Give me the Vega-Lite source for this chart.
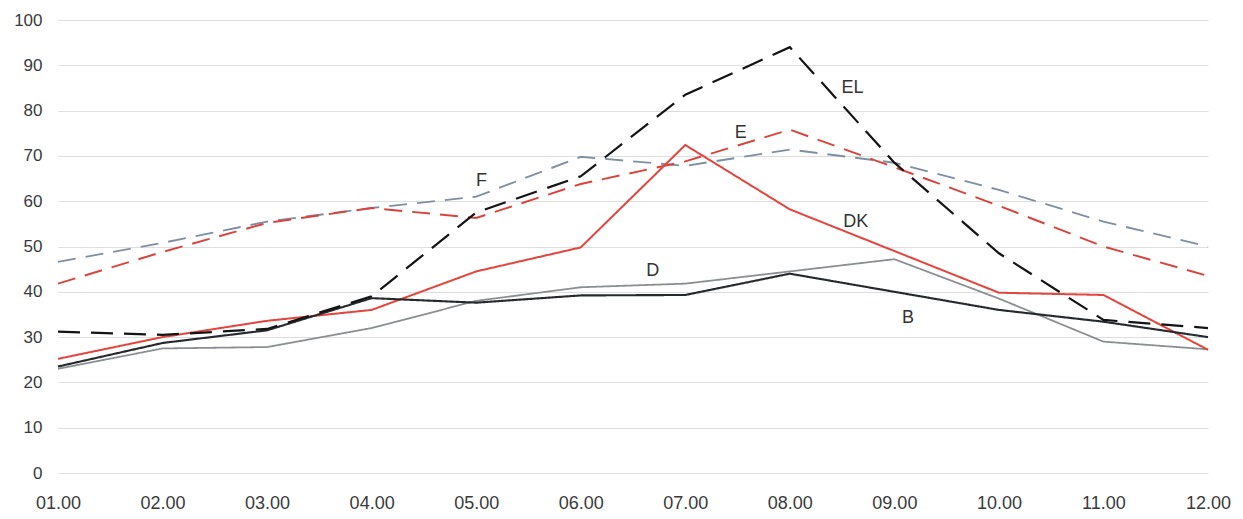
{
  "$schema": "https://vega.github.io/schema/vega-lite/v6.json",
  "width": 1150,
  "height": 453,
  "autosize": "none",
  "padding": {"left": 58, "top": 20, "right": 35, "bottom": 46},
  "background": "white",
  "config": {
    "view": {"stroke": null},
    "font": "Liberation Sans"
  },
  "datasets": {
    "series": [
      {"s": "D", "m": 1, "v": 23}, {"s": "D", "m": 2, "v": 27.5}, {"s": "D", "m": 3, "v": 27.8}, {"s": "D", "m": 4, "v": 32}, {"s": "D", "m": 5, "v": 38}, {"s": "D", "m": 6, "v": 41}, {"s": "D", "m": 7, "v": 41.8}, {"s": "D", "m": 8, "v": 44.5}, {"s": "D", "m": 9, "v": 47.2}, {"s": "D", "m": 10, "v": 38.5}, {"s": "D", "m": 11, "v": 29}, {"s": "D", "m": 12, "v": 27.3},
      {"s": "F", "m": 1, "v": 46.6}, {"s": "F", "m": 2, "v": 50.8}, {"s": "F", "m": 3, "v": 55.5}, {"s": "F", "m": 4, "v": 58.5}, {"s": "F", "m": 5, "v": 61}, {"s": "F", "m": 6, "v": 69.8}, {"s": "F", "m": 7, "v": 67.8}, {"s": "F", "m": 8, "v": 71.4}, {"s": "F", "m": 9, "v": 68.5}, {"s": "F", "m": 10, "v": 62.5}, {"s": "F", "m": 11, "v": 55.5}, {"s": "F", "m": 12, "v": 50},
      {"s": "E", "m": 1, "v": 41.8}, {"s": "E", "m": 2, "v": 48.8}, {"s": "E", "m": 3, "v": 55.2}, {"s": "E", "m": 4, "v": 58.5}, {"s": "E", "m": 5, "v": 56.3}, {"s": "E", "m": 6, "v": 63.8}, {"s": "E", "m": 7, "v": 68.8}, {"s": "E", "m": 8, "v": 75.8}, {"s": "E", "m": 9, "v": 67.5}, {"s": "E", "m": 10, "v": 59}, {"s": "E", "m": 11, "v": 50}, {"s": "E", "m": 12, "v": 43.5},
      {"s": "DK", "m": 1, "v": 25.2}, {"s": "DK", "m": 2, "v": 30}, {"s": "DK", "m": 3, "v": 33.6}, {"s": "DK", "m": 4, "v": 36}, {"s": "DK", "m": 5, "v": 44.5}, {"s": "DK", "m": 6, "v": 49.8}, {"s": "DK", "m": 7, "v": 72.4}, {"s": "DK", "m": 8, "v": 58.2}, {"s": "DK", "m": 9, "v": 49}, {"s": "DK", "m": 10, "v": 39.8}, {"s": "DK", "m": 11, "v": 39.3}, {"s": "DK", "m": 12, "v": 27.2},
      {"s": "B", "m": 1, "v": 23.5}, {"s": "B", "m": 2, "v": 28.7}, {"s": "B", "m": 3, "v": 31.5}, {"s": "B", "m": 4, "v": 38.6}, {"s": "B", "m": 5, "v": 37.6}, {"s": "B", "m": 6, "v": 39.2}, {"s": "B", "m": 7, "v": 39.3}, {"s": "B", "m": 8, "v": 44}, {"s": "B", "m": 9, "v": 40}, {"s": "B", "m": 10, "v": 36}, {"s": "B", "m": 11, "v": 33.4}, {"s": "B", "m": 12, "v": 30},
      {"s": "EL", "m": 1, "v": 31.2}, {"s": "EL", "m": 2, "v": 30.5}, {"s": "EL", "m": 3, "v": 31.8}, {"s": "EL", "m": 4, "v": 39}, {"s": "EL", "m": 5, "v": 57.5}, {"s": "EL", "m": 6, "v": 65.5}, {"s": "EL", "m": 7, "v": 83.5}, {"s": "EL", "m": 8, "v": 94}, {"s": "EL", "m": 9, "v": 68.5}, {"s": "EL", "m": 10, "v": 48.5}, {"s": "EL", "m": 11, "v": 33.8}, {"s": "EL", "m": 12, "v": 32}
    ],
    "labels": [
      {"t": "F", "m": 5.05, "v": 64.5},
      {"t": "E", "m": 7.53, "v": 75},
      {"t": "EL", "m": 8.6, "v": 85},
      {"t": "DK", "m": 8.63, "v": 55.4},
      {"t": "D", "m": 6.69, "v": 44.6},
      {"t": "B", "m": 9.13, "v": 34.2}
    ]
  },
  "layer": [
    {
      "data": {"name": "series"},
      "mark": {"type": "line", "strokeCap": "butt", "strokeJoin": "miter"},
      "encoding": {
        "x": {
          "field": "m", "type": "quantitative",
          "scale": {"domain": [1, 12], "nice": false, "zero": false},
          "axis": {
            "values": [1, 2, 3, 4, 5, 6, 7, 8, 9, 10, 11, 12],
            "format": "05.2f",
            "title": null, "grid": false, "domain": false, "ticks": false,
            "labelFontSize": 18, "labelColor": "#3a3a3a", "labelPadding": 21,
            "labelFlush": false
          }
        },
        "y": {
          "field": "v", "type": "quantitative",
          "scale": {"domain": [0, 100], "nice": false},
          "axis": {
            "values": [0, 10, 20, 30, 40, 50, 60, 70, 80, 90, 100],
            "title": null, "domain": false, "ticks": false,
            "gridColor": "#dedede", "gridWidth": 1.2,
            "labelFontSize": 17, "labelColor": "#3a3a3a", "labelPadding": 16
          }
        },
        "color": {
          "field": "s", "type": "nominal",
          "scale": {"domain": ["D", "F", "E", "DK", "B", "EL"], "range": ["#8c8f92", "#7d8fa3", "#d8433c", "#e2473f", "#262a2e", "#141414"]},
          "legend": null
        },
        "strokeDash": {
          "field": "s", "type": "nominal",
          "scale": {"domain": ["D", "F", "E", "DK", "B", "EL"], "range": [[1, 0], [18, 10], [18, 10], [1, 0], [1, 0], [22, 11]]},
          "legend": null
        },
        "strokeWidth": {
          "field": "s", "type": "nominal",
          "scale": {"domain": ["D", "F", "E", "DK", "B", "EL"], "range": [1.8, 2.2, 3, 2.4, 2.4, 4]},
          "legend": null
        },
        "order": {"field": "m", "type": "quantitative"}
      }
    },
    {
      "data": {"name": "labels"},
      "mark": {"type": "text", "fontSize": 18, "color": "#333333", "align": "center", "baseline": "middle"},
      "encoding": {
        "x": {"field": "m", "type": "quantitative"},
        "y": {"field": "v", "type": "quantitative"},
        "text": {"field": "t"}
      }
    }
  ]
}
